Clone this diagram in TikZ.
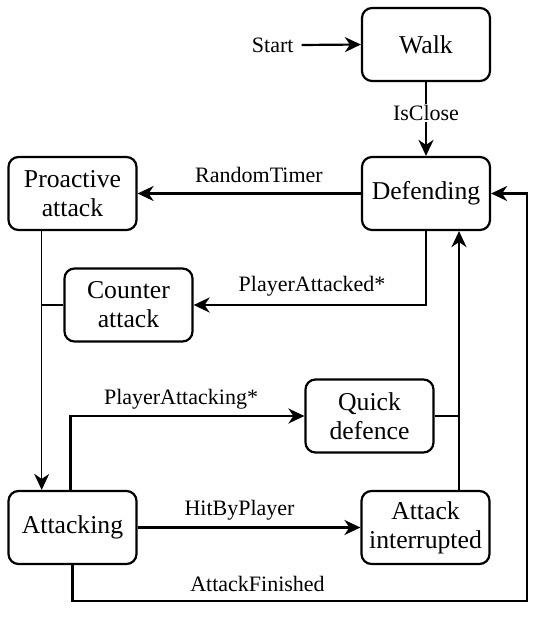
\documentclass[tikz,border=0pt]{standalone}
\usepackage{fontspec}
\setmainfont{Liberation Serif}
\usetikzlibrary{arrows.meta}
\tikzset{
  state/.style={draw, line width=2.2pt, rounded corners=10pt, minimum width=128pt, minimum height=73pt,
    align=center, inner sep=2pt, font=\fontsize{25.7}{29}\selectfont},
  lbl/.style={inner sep=1pt, font=\fontsize{22}{24}\selectfont},
  conn/.style={line width=2.2pt},
  arr/.style={line width=2.2pt, -{Stealth[length=16pt,width=15pt,inset=5pt]}},
}
\begin{document}
\begin{tikzpicture}[x=1pt,y=-1pt]
\useasboundingbox (0,0) rectangle (550,623);
\node[state] (walk) at (426,44.5) {Walk};
\node[state] (def) at (426,193.5) {Defending};
\node[state] (pro) at (72.5,193.5) {Proactive\\attack};
\node[state] (counter) at (128.5,305) {Counter\\attack};
\node[state] (atk) at (72.5,527.5) {Attacking};
\node[state] (quick) at (369.5,416) {Quick\\defence};
\node[state] (intr) at (425.5,527.5) {Attack\\interrupted};

\node[lbl] (start) at (272.7,45) {Start};
\coordinate (s0) at (301.7,45);
\draw[arr] (s0) -- (walk.west);

\draw[arr] (walk) -- (def) node[lbl, fill=white, pos=0.42] (isclose) {IsClose};

\draw[arr] (def.west) -- (pro.east);
\node[lbl] (rt) at (259,175) {RandomTimer};

\draw[arr] (def.south) |- (counter.east);
\node[lbl] (pa) at (312,286) {PlayerAttacked*};

\coordinate (pj) at ([xshift=-30.8pt]pro.south);
\draw[arr, line width=1.3pt] (pj) -- (pj |- atk.north);
\draw[conn] (counter.west) -- (counter.west -| pj);

\draw[arr] ([xshift=-2pt]atk.north) |- (quick.west);
\node[lbl] (pak) at (181,399) {PlayerAttacking*};

\draw[arr] (atk.east) -- (intr.west);
\node[lbl] (hbp) at (239.5,510) {HitByPlayer};

\coordinate (ij) at ([xshift=33.5pt]intr.north);
\draw[arr] (ij) -- (ij |- def.south);
\draw[conn] (quick.east) -- (quick.east -| ij);

\coordinate (c1) at (527.3,601);
\draw[arr] (atk.south) |- (c1) |- (def.east);
\node[lbl] (af) at (257.5,584) {AttackFinished};
\end{tikzpicture}
\end{document}
